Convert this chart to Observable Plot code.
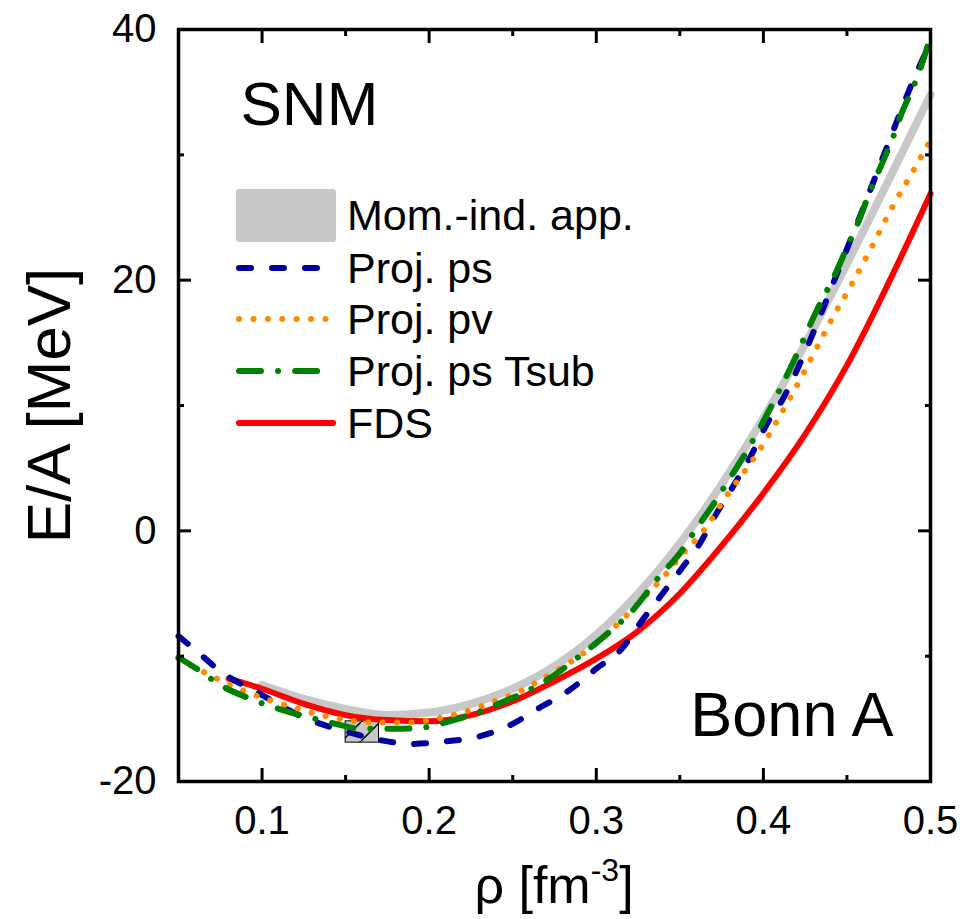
<!DOCTYPE html>
<html><head><meta charset="utf-8">
<script src="https://cdn.jsdelivr.net/npm/d3@7"></script>
<script src="https://cdn.jsdelivr.net/npm/@observablehq/plot@0.6"></script>
<style>html,body{margin:0;padding:0;background:#fff}</style>
</head><body><div id="chart"></div>
<script>
// ---- data ----
const rhoMom = [0.10,0.125,0.15,0.175,0.20,0.225,0.25,0.275,0.30,0.325,0.35,0.375,0.40,0.425,0.45,0.475,0.50];
const eMom   = [-12.3,-13.4,-14.2,-14.7,-14.5,-13.8,-12.6,-10.8,-8.3,-5.0,-1.0,3.7,9.0,14.9,21.3,28.0,34.8];

const rhoPs = [0.05,0.06,0.075,0.10,0.125,0.15,0.175,0.19,0.21,0.23,0.25,0.265,0.283,0.30,0.316,0.325,0.338,0.35,0.362,0.372,0.383,0.393,0.402,0.412,0.425,0.444,0.459,0.473,0.488,0.50];
const ePs   = [-8.4,-9.5,-11.2,-13.1,-14.9,-16.0,-16.8,-17.0,-16.8,-16.4,-15.4,-14.2,-12.8,-11.0,-9.3,-7.6,-5.3,-3.2,-1.0,1.4,3.8,6.1,8.5,10.6,14.3,20.5,25.5,30.3,35.4,39.0];

const rhoPv = [0.05,0.07,0.086,0.102,0.119,0.135,0.151,0.17,0.187,0.204,0.22,0.237,0.253,0.268,0.283,0.298,0.31,0.328,0.34,0.352,0.363,0.378,0.388,0.398,0.407,0.416,0.43,0.441,0.453,0.465,0.477,0.49,0.50];
const ePv   = [-10.2,-11.6,-12.6,-13.4,-14.1,-14.7,-15.1,-15.3,-15.3,-15.0,-14.5,-13.7,-12.9,-11.8,-10.6,-9.2,-7.8,-5.4,-3.7,-1.8,-0.2,2.8,4.6,6.5,8.5,10.6,14.1,16.9,19.7,22.7,25.8,28.8,31.2];

const rhoTsub = [0.05,0.062,0.075,0.093,0.11,0.126,0.144,0.16,0.18,0.196,0.212,0.229,0.245,0.26,0.275,0.289,0.304,0.322,0.338,0.35,0.36,0.37,0.379,0.388,0.397,0.405,0.418,0.432,0.443,0.45,0.457,0.463,0.47,0.477,0.483,0.49,0.496,0.50];
const eTsub   = [-10.1,-11.1,-12.3,-13.4,-14.2,-14.8,-15.4,-15.8,-15.8,-15.7,-15.2,-14.5,-13.6,-12.7,-11.5,-10.1,-8.5,-6.3,-3.6,-1.8,0.2,2.1,4.0,5.9,8.0,10.0,13.5,17.6,20.5,22.6,24.7,26.8,29.0,31.2,33.4,35.5,37.7,39.5];

const rhoFds = [0.08,0.10,0.125,0.15,0.175,0.20,0.225,0.25,0.275,0.30,0.325,0.35,0.375,0.40,0.425,0.45,0.475,0.50];
const eFds   = [-11.8,-12.6,-13.8,-14.7,-15.1,-15.2,-14.7,-13.6,-12.0,-10.2,-8.0,-5.0,-1.2,3.0,7.7,13.2,19.8,26.9];

const satRho = [0.15, 0.17];
const satE   = [-16.9, -15.2];

const xMajor = [0.1, 0.2, 0.3, 0.4, 0.5];
const xMinor = [0.15, 0.25, 0.35, 0.45];
const yMajor = [-20, 0, 20, 40];
const yMinor = [-10, 10, 30];

const legendLabels = ["Mom.-ind. app.", "Proj. ps", "Proj. pv", "Proj. ps Tsub", "FDS"];
const panelLabel = "SNM";
const modelLabel = "Bonn A";
const yTitle = "E/A [MeV]";

// ---- styles ----
const font = "'Liberation Sans', Arial, Helvetica, sans-serif";
const sty = {
  mom:  {stroke: "#c8c8c8", strokeWidth: 8},
  ps:   {stroke: "#0000a0", strokeWidth: 6, strokeDasharray: "12,21", strokeLinecap: "round"},
  pv:   {stroke: "#ff8c00", strokeWidth: 6, strokeDasharray: "0.1,14.3", strokeLinecap: "round"},
  tsub: {stroke: "#008000", strokeWidth: 6, strokeDasharray: "22,17,0.1,17", strokeLinecap: "round"},
  fds:  {stroke: "#ff0000", strokeWidth: 6}
};

const rows = (xs, ys) => xs.map((x, i) => ({x, y: ys[i]}));
const tk = {strokeWidth: 3, tickFormat: () => "", label: null};

const chart = Plot.plot({
  width: 963, height: 919,
  marginLeft: 178, marginRight: 33, marginTop: 29, marginBottom: 138,
  x: {domain: [0.05, 0.5]},
  y: {domain: [-20, 40]},
  style: {fontFamily: font, fontSize: "40px", color: "#000", background: "#fff", overflow: "visible"},
  marks: [
    Plot.rect([{x1: satRho[0], x2: satRho[1], y1: satE[0], y2: satE[1]}], {x1: "x1", x2: "x2", y1: "y1", y2: "y2", fill: "#c8c8c8", stroke: "#000", strokeWidth: 1}),
    Plot.rect([{x1: satRho[0], x2: satRho[1], y1: satE[0], y2: satE[1]}], {x1: "x1", x2: "x2", y1: "y1", y2: "y2", fill: "url(#hatch)"}),
    Plot.line(rows(rhoMom, eMom), {x: "x", y: "y", curve: "monotone-x", ...sty.mom}),
    Plot.line(rows(rhoFds, eFds), {x: "x", y: "y", curve: "monotone-x", ...sty.fds}),
    Plot.line(rows(rhoPs, ePs), {x: "x", y: "y", curve: "monotone-x", ...sty.ps}),
    Plot.line(rows(rhoPv, ePv), {x: "x", y: "y", curve: "monotone-x", ...sty.pv}),
    Plot.line(rows(rhoTsub, eTsub), {x: "x", y: "y", curve: "monotone-x", ...sty.tsub}),
    Plot.axisX(xMajor, {anchor: "bottom", tickSize: -13, ...tk}),
    Plot.axisX(xMinor, {anchor: "bottom", tickSize: -6, ...tk}),
    Plot.axisX(xMajor, {anchor: "top", tickSize: -13, ...tk}),
    Plot.axisX(xMinor, {anchor: "top", tickSize: -6, ...tk}),
    Plot.axisY(yMajor, {anchor: "left", tickSize: -13, ...tk}),
    Plot.axisY(yMinor, {anchor: "left", tickSize: -6, ...tk}),
    Plot.axisY(yMajor, {anchor: "right", tickSize: -13, ...tk}),
    Plot.axisY(yMinor, {anchor: "right", tickSize: -6, ...tk}),
    Plot.axisX(xMajor, {anchor: "bottom", tickSize: 0, tickPadding: 24, tickFormat: d3.format(".1f"), label: null, fontSize: 40}),
    Plot.axisY(yMajor, {anchor: "left", tickSize: 0, tickPadding: 22, tickFormat: d => String(d), label: null, fontSize: 40}),
    Plot.frame({strokeWidth: 3.5}),
    Plot.text([panelLabel], {frameAnchor: "top-left", text: d => d, dx: 62, dy: 76, lineAnchor: "middle", textAnchor: "start", fontSize: 62}),
    Plot.text([modelLabel], {frameAnchor: "bottom-right", text: d => d, dx: -37, dy: -66, lineAnchor: "middle", textAnchor: "end", fontSize: 63}),
    Plot.text([yTitle], {frameAnchor: "left", text: d => d, dx: -128, rotate: -90, lineAnchor: "middle", textAnchor: "middle", fontSize: 62})
  ]
});
document.getElementById("chart").appendChild(chart);

// hatch pattern for the saturation box
const svg = d3.select(chart);
const defs = svg.insert("defs", ":first-child");
defs.append("pattern").attr("id", "hatch").attr("patternUnits", "userSpaceOnUse")
  .attr("width", 19).attr("height", 19)
  .append("path").attr("d", "M-2,21 L21,-2").attr("stroke", "#000").attr("stroke-width", 1.5);

// x-axis title with superscript
const xt = svg.append("text").attr("x", 554).attr("y", 903).attr("text-anchor", "middle")
  .attr("font-family", font).attr("font-size", 52).attr("fill", "#000");
xt.append("tspan").text("ρ [fm");
xt.append("tspan").attr("dy", -22).attr("font-size", 32).text("-3");
xt.append("tspan").attr("dy", 22).text("]");

// legend
const lg = svg.append("g").attr("font-family", font).attr("font-size", 43).attr("text-anchor", "start").attr("fill", "#000");
const rowY = [215, 268, 319, 371, 423];
lg.append("rect").attr("x", 236).attr("y", 189).attr("width", 100).attr("height", 53).attr("rx", 3).attr("fill", sty.mom.stroke);
const sampleKeys = [null, "ps", "pv", "tsub", "fds"];
sampleKeys.forEach((k, i) => {
  if (k) {
    const s = sty[k];
    lg.append("line").attr("x1", 239).attr("x2", 333).attr("y1", rowY[i]).attr("y2", rowY[i])
      .attr("stroke", s.stroke).attr("stroke-width", s.strokeWidth)
      .attr("stroke-dasharray", s.strokeDasharray || null)
      .attr("stroke-linecap", "round");
  }
  lg.append("text").attr("x", 347).attr("y", rowY[i] + 15).attr("text-anchor", "start").text(legendLabels[i]);
});
</script>
</body></html>
